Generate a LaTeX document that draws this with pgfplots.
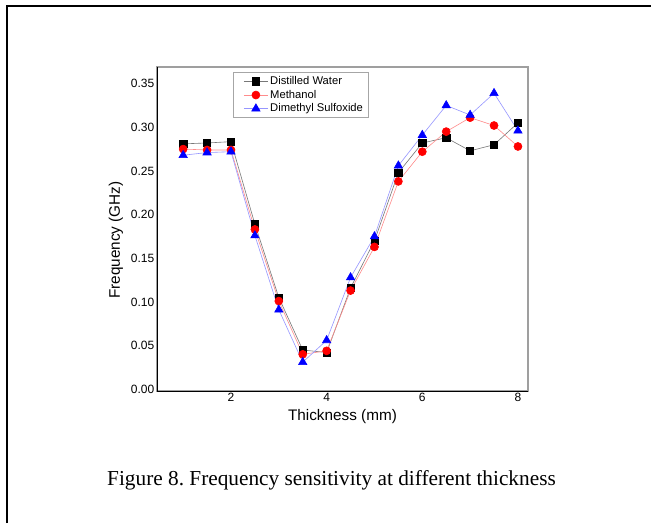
\documentclass[border=0pt]{standalone}
\usepackage{fontspec}
\setmainfont{Liberation Serif}
\newfontfamily\arial{Liberation Sans}
\usepackage{pgfplots}
\pgfplotsset{compat=1.18}
\definecolor{dwline}{RGB}{120,120,120}
\definecolor{meline}{RGB}{255,140,140}
\definecolor{dmline}{RGB}{150,150,255}
\begin{document}
\frenchspacing
\begin{tikzpicture}
\useasboundingbox (0,0) rectangle (651pt,523pt);
\fill[white] (0,0) rectangle (651pt,523pt);
\draw[line width=2pt] (6.5pt,0pt) -- (6.5pt,516.5pt) -- (651pt,516.5pt);
\begin{axis}[
  scale only axis,
  width=371pt, height=324pt,
  at={(157pt,132pt)}, anchor=south west,
  xmin=0.453, xmax=8.21,
  ymin=-0.002, ymax=0.369,
  xtick={2,4,6,8},
  ytick={0,0.05,0.10,0.15,0.20,0.25,0.30,0.35},
  yticklabel style={/pgf/number format/fixed,/pgf/number format/precision=2,/pgf/number format/fixed zerofill, inner sep=0pt, xshift=-2.5pt},
  xticklabel style={inner sep=0pt, yshift=-2pt},
  /pgf/number format/assume math mode=true,
  ticklabel style={font=\arial\fontsize{12}{13}\selectfont},
  major tick length=0pt,
  axis line style={draw=gray!75, line width=1.4pt},
  xlabel={Thickness (mm)},
  ylabel={Frequency (GHz)},
  label style={font=\arial\fontsize{15.3}{17}\selectfont},
  x label style={at={(axis description cs:0.5,-0.0802)}, anchor=center},
  y label style={at={(axis description cs:-0.1105,0.466)}, anchor=center, rotate=0},
  legend style={at={(axis description cs:0.2057,0.9836)}, anchor=north west,
    draw=gray!70, line width=0.6pt, fill=white, inner xsep=3pt, inner ysep=2pt,
    font=\arial\fontsize{11.2}{13}\selectfont, cells={anchor=west}},
  legend image code/.code={\path (0pt,0pt); \draw[mark repeat=2,mark phase=2,#1] plot coordinates {(7pt,0pt) (19pt,0pt) (31pt,0pt)};},
  clip=false,
]
\addplot[color=dwline, line width=0.6pt, mark=square*, mark size=3.65pt, mark options={fill=black, draw=black}] coordinates {
(1,0.281) (1.5,0.282) (2,0.2835) (2.5,0.189) (3,0.105) (3.5,0.045) (4,0.042) (4.5,0.116) (5,0.170) (5.5,0.248) (6,0.282) (6.5,0.288) (7,0.273) (7.5,0.280) (8,0.305)};
\addlegendentry{Distilled Water}
\addplot[color=meline, line width=0.6pt, mark=*, mark size=4pt, mark options={fill=red, draw=red}] coordinates {
(1,0.275) (1.5,0.274) (2,0.274) (2.5,0.183) (3,0.101) (3.5,0.040) (4,0.044) (4.5,0.113) (5,0.163) (5.5,0.238) (6,0.272) (6.5,0.295) (7,0.311) (7.5,0.302) (8,0.278)};
\addlegendentry{Methanol}
\addplot[color=dmline, line width=0.6pt, mark=triangle*, mark size=4.8pt, mark options={fill=blue, draw=blue}] coordinates {
(1,0.268) (1.5,0.271) (2,0.272) (2.5,0.176) (3,0.091) (3.5,0.031) (4,0.056) (4.5,0.128) (5,0.175) (5.5,0.256) (6,0.291) (6.5,0.325) (7,0.314) (7.5,0.339) (8,0.296)};
\addlegendentry{Dimethyl Sulfoxide}
\draw[black, line width=1pt] (rel axis cs:0,1) -- (rel axis cs:0,0) -- (rel axis cs:1,0);
\end{axis}
\node[anchor=base, font=\fontsize{21.3}{25}\selectfont] at (331.5pt,37.4pt) {Figure 8. Frequency sensitivity at different thickness};
\end{tikzpicture}
\end{document}
